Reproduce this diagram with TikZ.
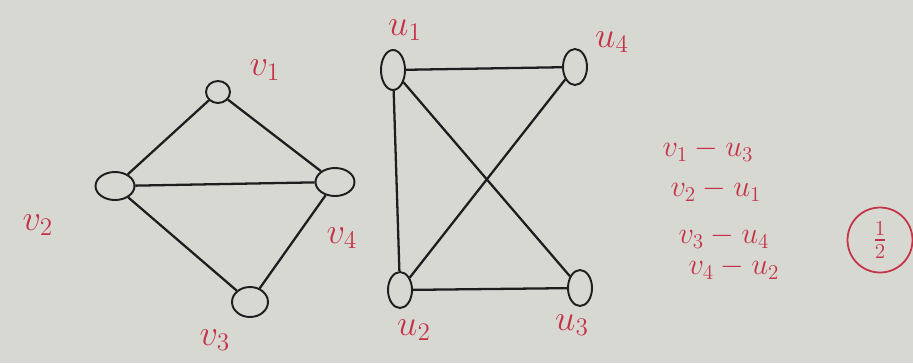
\documentclass[tikz,border=0pt]{standalone}
\usepackage{amsmath,amssymb}
\usepackage{tikz}
\usetikzlibrary{positioning,calc,shapes.geometric}
\definecolor{paper}{RGB}{216,216,211}
\definecolor{inkred}{RGB}{196,52,72}
\definecolor{inkblack}{RGB}{30,30,30}
\tikzset{
  vtx/.style={draw=inkblack, line width=1.1pt, ellipse, minimum width=0.78cm, minimum height=0.56cm, inner sep=0pt},
  utx/.style={draw=inkblack, line width=1.1pt, ellipse, minimum width=0.48cm, minimum height=0.72cm, inner sep=0pt},
  edge/.style={draw=inkblack, line width=1.3pt},
  lbl/.style={text=inkred, font=\fontsize{21}{24}\selectfont, inner sep=1pt},
  maprow/.style={text=inkred, font=\fontsize{18}{21}\selectfont, inner sep=1pt}
}
\begin{document}
\begin{tikzpicture}[x=0.02cm, y=-0.02cm]
      \fill[paper] (0,0) rectangle (913,363);
      \useasboundingbox (0,0) rectangle (913,363);
      % first graph
      \node[vtx, minimum width=0.48cm, minimum height=0.44cm] (v1) at (218,92) {};
      \node[vtx] (v2) at (115,186) {};
      \node[vtx] (v4) at (335,182) {};
      \node[vtx, minimum width=0.72cm, minimum height=0.6cm] (v3) at (250,302) {};
      \draw[edge] (v1) -- (v2);
      \draw[edge] (v1) -- (v4);
      \draw[edge] (v2) -- (v4);
      \draw[edge] (v2) -- (v3);
      \draw[edge] (v3) -- (v4);
      \node[lbl] (lv1) at (265,70) {$v_1$};
      \node[lbl] (lv2) at (38,225) {$v_2$};
      \node[lbl] (lv4) at (342,238) {$v_4$};
      \node[lbl] (lv3) at (215,340) {$v_3$};
      % second graph
      \node[utx, minimum height=0.8cm] (u1) at (393,70) {};
      \node[utx] (u4) at (575,67) {};
      \node[utx] (u2) at (400,290) {};
      \node[utx] (u3) at (580,288) {};
      \draw[edge] (u1) -- (u4);
      \draw[edge] (u1) -- (u2);
      \draw[edge] (u1) -- (u3);
      \draw[edge] (u2) -- (u4);
      \draw[edge] (u2) -- (u3);
      \node[lbl] (lu1) at (405,30) {$u_1$};
      \node[lbl] (lu4) at (612,42) {$u_4$};
      \node[lbl] (lu2) at (414,330) {$u_2$};
      \node[lbl] (lu3) at (572,325) {$u_3$};
      % correspondence
      \node[maprow] (m1) at (708,150) {$v_1 - u_3$};
      \node[maprow] (m2) at (716,190) {$v_2 - u_1$};
      \node[maprow] (m3) at (724,237) {$v_3 - u_4$};
      \node[maprow] (m4) at (734,268) {$v_4 - u_2$};
      \node[draw=inkred, line width=1pt, circle, minimum size=1.3cm, text=inkred, font=\fontsize{18}{20}\selectfont, inner sep=0pt] (mark) at (880,240) {$\tfrac12$};
    \end{tikzpicture}
\end{document}
